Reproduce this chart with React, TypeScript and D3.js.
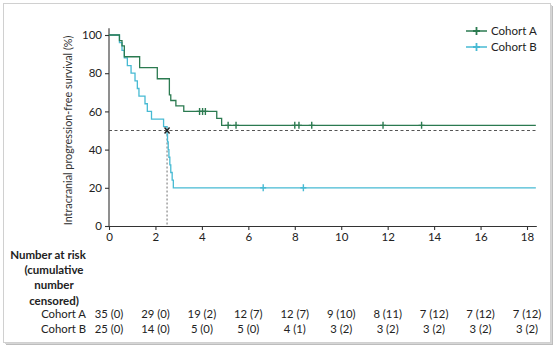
import React, { useEffect, useRef } from "react";
import * as d3 from "d3";

// step curves (months, % progression-free)
const cohortATimes = [0, 0.45, 0.56, 0.66, 1.32, 2.08, 2.6, 2.66, 2.88, 3.22, 4.64, 4.85, 18.38];
const cohortASurv = [100, 97.1, 94.3, 88.6, 82.9, 77.1, 68.6, 65.7, 62.9, 60.0, 56.3, 52.7, 52.7];
const cohortACensorTimes = [3.9, 4.03, 4.15, 5.13, 5.47, 8.0, 8.18, 8.73, 11.8, 13.46];
const cohortACensorSurv = [60, 60, 60, 52.7, 52.7, 52.7, 52.7, 52.7, 52.7, 52.7];

const cohortBTimes = [0, 0.45, 0.56, 0.66, 0.79, 0.95, 1.12, 1.22, 1.29, 1.55, 1.65, 1.83, 2.35, 2.5, 2.52, 2.55, 2.58, 2.62, 2.66, 2.72, 2.77, 18.38];
const cohortBSurv = [100, 96, 92, 88, 84, 80, 76, 72, 68, 64, 60, 56, 52, 48, 44, 40, 36, 32, 28, 24, 20, 20];
const cohortBCensorTimes = [6.64, 8.37];
const cohortBCensorSurv = [20, 20];

const medianTime = 2.5;
const medianSurv = 50;

const xTicks = [0, 2, 4, 6, 8, 10, 12, 14, 16, 18];
const yTicks = [0, 20, 40, 60, 80, 100];

const cohortARisk = ["35 (0)", "29 (0)", "19 (2)", "12 (7)", "12 (7)", "9 (10)", "8 (11)", "7 (12)", "7 (12)", "7 (12)"];
const cohortBRisk = ["25 (0)", "14 (0)", "5 (0)", "5 (0)", "4 (1)", "3 (2)", "3 (2)", "3 (2)", "3 (2)", "3 (2)"];

const seriesNames = ["Cohort A", "Cohort B"];
const colorA = "#2b7a50";
const colorB = "#47bad3";

type Pt = { t: number; s: number };

export default function App() {
  const svgRef = useRef<SVGSVGElement | null>(null);
  const width = 560;
  const height = 352;

  useEffect(() => {
    const svg = d3.select(svgRef.current);
    svg.selectAll("*").remove();
    const font = "Lato, 'Open Sans', sans-serif";

    // frame with soft shadow
    svg.append("rect").attr("x", 6).attr("y", 6).attr("width", 547).attr("height", 339).attr("fill", "#bdbdbd");
    svg.append("rect").attr("x", 5).attr("y", 5).attr("width", 547).attr("height", 339).attr("fill", "#d6d6d6");
    svg.append("rect").attr("x", 3.5).attr("y", 3.5).attr("width", 547).attr("height", 339)
      .attr("fill", "#fff").attr("stroke", "#d0d0d0");

    const x = d3.scaleLinear().domain([0, 18.4]).range([109, 536.3]);
    const y = d3.scaleLinear().domain([0, 100]).range([226, 35]);

    // axes
    const gx = svg.append("g").attr("transform", `translate(0,${y(0)})`)
      .call(d3.axisBottom(x).tickValues(xTicks).tickSize(4).tickSizeOuter(0).tickPadding(3));
    const gy = svg.append("g").attr("transform", `translate(${x(0)},0)`)
      .call(d3.axisLeft(y).tickValues(yTicks).tickSize(4).tickSizeOuter(0).tickPadding(3));
    gy.select(".domain").attr("d", `M0,${y(0)}V${y(103.5)}`);
    [gx, gy].forEach((g) => {
      g.selectAll("text").attr("font-family", font).attr("font-size", 11.5).attr("fill", "#222");
      g.selectAll("line,path").attr("stroke", "#333").attr("stroke-width", 1.1);
    });

    // y label
    svg.append("text")
      .attr("transform", `translate(72,${y(50)}) rotate(-90)`)
      .attr("text-anchor", "middle").attr("font-family", font).attr("font-size", 10.8).attr("fill", "#333")
      .text("Intracranial progression-free survival (%)");

    // median reference lines
    svg.append("line").attr("x1", x(0)).attr("x2", x(18.4)).attr("y1", y(medianSurv)).attr("y2", y(medianSurv))
      .attr("stroke", "#555").attr("stroke-dasharray", "3,2.5").attr("stroke-width", 1);
    svg.append("line").attr("x1", x(medianTime)).attr("x2", x(medianTime)).attr("y1", y(medianSurv)).attr("y2", y(0))
      .attr("stroke", "#888").attr("stroke-dasharray", "2,2").attr("stroke-width", 1.2);

    const line = d3.line<Pt>().x((d) => x(d.t)).y((d) => y(d.s)).curve(d3.curveStepAfter);
    const toPts = (ts: number[], ss: number[]) => ts.map((t, i) => ({ t, s: ss[i] }));

    const drawCensor = (g: d3.Selection<SVGGElement, unknown, null, undefined>, pts: Pt[], color: string) => {
      pts.forEach((p) => {
        const cx = x(p.t), cy = y(p.s);
        g.append("path").attr("d", `M${cx},${cy - 3.5}V${cy + 3.5}M${cx - 3},${cy}H${cx + 3}`)
          .attr("stroke", color).attr("stroke-width", 1.4).attr("fill", "none");
      });
    };

    const gB = svg.append("g");
    gB.append("path").datum(toPts(cohortBTimes, cohortBSurv)).attr("d", line)
      .attr("fill", "none").attr("stroke", colorB).attr("stroke-width", 1.3);
    drawCensor(gB, toPts(cohortBCensorTimes, cohortBCensorSurv), colorB);

    const gA = svg.append("g");
    gA.append("path").datum(toPts(cohortATimes, cohortASurv)).attr("d", line)
      .attr("fill", "none").attr("stroke", colorA).attr("stroke-width", 1.3);
    drawCensor(gA, toPts(cohortACensorTimes, cohortACensorSurv), colorA);

    // median cross
    const mx = x(medianTime), my = y(medianSurv);
    svg.append("path").attr("d", `M${mx - 2.5},${my - 3}L${mx + 2.5},${my + 3}M${mx + 2.5},${my - 3}L${mx - 2.5},${my + 3}`)
      .attr("stroke", "#222").attr("stroke-width", 1.4);

    // legend
    const legColors = [colorA, colorB];
    seriesNames.forEach((name, i) => {
      const ly = 31 + i * 16;
      svg.append("line").attr("x1", 466).attr("x2", 487).attr("y1", ly).attr("y2", ly)
        .attr("stroke", legColors[i]).attr("stroke-width", 1.5);
      svg.append("path").attr("d", `M476.5,${ly - 4}V${ly + 4}M473,${ly}H480`)
        .attr("stroke", legColors[i]).attr("stroke-width", 1.8);
      svg.append("text").attr("x", 491).attr("y", ly + 4).attr("font-family", font).attr("font-size", 11.5)
        .attr("fill", "#222").text(name);
    });

    // number at risk table
    const headLines = ["Number at risk", "(cumulative", "number", "censored)"];
    headLines.forEach((t, i) => {
      svg.append("text").attr("x", i === 0 ? 48 : 54).attr("y", 259 + i * 15.2).attr("text-anchor", "middle")
        .attr("font-family", font).attr("font-size", 11.5).attr("font-weight", "bold").attr("fill", "#222").text(t);
    });
    const rows = [cohortARisk, cohortBRisk];
    rows.forEach((row, r) => {
      const ry = 318 + r * 14.5;
      svg.append("text").attr("x", 86).attr("y", ry).attr("text-anchor", "end")
        .attr("font-family", font).attr("font-size", 11.3).attr("fill", "#222").text(seriesNames[r]);
      row.forEach((v, i) => {
        svg.append("text").attr("x", x(xTicks[i])).attr("y", ry).attr("text-anchor", "middle")
          .attr("font-family", font).attr("font-size", 11.3).attr("fill", "#222").text(v);
      });
    });
  }, []);

  return (
    <svg
      ref={svgRef}
      width={width}
      height={height}
      style={{ position: "absolute", left: 0, top: 0, background: "#fff" }}
    />
  );
}
